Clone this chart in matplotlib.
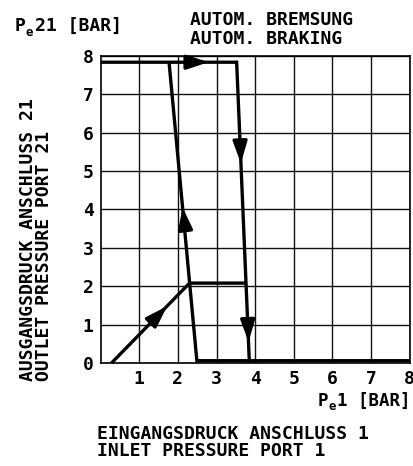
import matplotlib
matplotlib.use("Agg")
import matplotlib.pyplot as plt

# ---- data ----
x_ticks = [1, 2, 3, 4, 5, 6, 7, 8]
y_ticks = [0, 1, 2, 3, 4, 5, 6, 7, 8]

# Path A: top plateau then steep drop (automatic braking, rising inlet)
top_x = [0.0, 3.52, 3.85]
top_y = [7.83, 7.83, 0.0]
# Path B: drop line from plateau to zero, then flat zero line
left_x = [1.77, 2.49, 8.0]
left_y = [7.83, 0.06, 0.06]
# Path C: ramp from 0 up to 2.08 then flat to right line
ramp_x = [0.28, 2.30, 3.74]
ramp_y = [0.0, 2.08, 2.08]

# arrows: (tail_x, tail_y, tip_x, tip_y)
arrows = [
    (2.30, 7.83, 2.79, 7.83),
    (3.61, 5.75, 3.63, 5.20),
    (3.81, 1.05, 3.83, 0.55),
    (2.19, 3.50, 2.12, 4.05),
    (1.30, 1.05, 1.72, 1.48),
]

FONT = "DejaVu Sans Mono"
plt.rcParams["font.family"] = FONT
plt.rcParams["font.weight"] = "bold"

fig = plt.figure(figsize=(4.14, 4.66), dpi=100)
ax = fig.add_axes([0.2432, 0.2210, 0.7464, 0.6595])
ax.set_xlim(0, 8)
ax.set_ylim(0, 8)
ax.set_xticks(x_ticks)
ax.set_yticks(y_ticks)
ax.grid(True, color="#111111", linewidth=1.0)
for s in ax.spines.values():
    s.set_linewidth(1.2)
ax.tick_params(length=0, labelsize=13)
ax.tick_params(axis="x", pad=5)
ax.tick_params(axis="y", pad=5)
for lab in ax.get_xticklabels() + ax.get_yticklabels():
    lab.set_fontweight("bold")

lw = 2.4
for xs, ys in [(top_x, top_y), (left_x, left_y), (ramp_x, ramp_y)]:
    ax.plot(xs, ys, color="black", linewidth=lw, solid_capstyle="butt",
            solid_joinstyle="miter", clip_on=False, zorder=3)

for tx, ty, hx, hy in arrows:
    ax.annotate("", xy=(hx, hy), xytext=(tx, ty),
                arrowprops=dict(arrowstyle="-|>,head_length=1.3,head_width=0.43",
                                mutation_scale=10, color="black", lw=lw,
                                shrinkA=0, shrinkB=0),
                zorder=4)

W, H = 414, 466
def ft(xp, yp, s, size=13, **kw):
    fig.text(xp / W, 1 - yp / H, s, fontsize=size, fontweight="bold",
             family=FONT, **kw)

# top-left y-axis unit label
ft(15, 26, "P", va="center")
ft(26, 32, "e", size=9, va="center")
ft(35, 26, "21 [BAR]", va="center")
# title
ft(190, 20, "AUTOM. BREMSUNG", va="center")
ft(190, 39, "AUTOM. BRAKING", va="center")
# x-axis unit label
ft(318, 401, "P", size=12.5, va="center")
ft(329, 407, "e", size=9, va="center")
ft(337, 401, "1 [BAR]", size=12.5, va="center")
# bottom labels
fig.text(97 / W, 1 - 425 / H, "EINGANGSDRUCK ANSCHLUSS 1\nINLET PRESSURE PORT 1",
         fontsize=13, fontweight="bold", family=FONT, ha="left", va="top",
         linespacing=0.95)
# rotated y labels
fig.text(19 / W, 1 - 381 / H, "AUSGANGSDRUCK ANSCHLUSS 21\nOUTLET PRESSURE PORT 21",
         rotation=90, fontsize=13, fontweight="bold", family=FONT,
         ha="left", va="bottom", multialignment="left", linespacing=0.85)

fig.savefig("out.png", dpi=100)
